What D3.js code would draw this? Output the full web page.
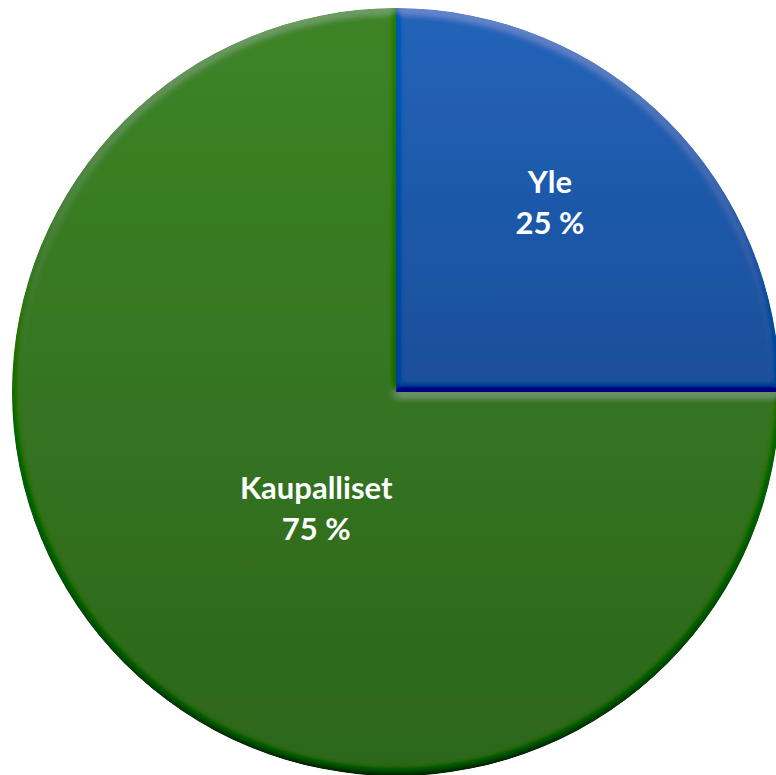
<!DOCTYPE html>
<html>
<head>
<meta charset="utf-8">
<script src="https://cdn.jsdelivr.net/npm/d3@7"></script>
<style>
  body { margin: 0; background: #fff; overflow: hidden; }
  text { font-family: Lato, "Open Sans", sans-serif; font-weight: bold; fill: #fff; }
</style>
</head>
<body>
<script>
document.addEventListener('DOMContentLoaded', function () {
    // data
    let categories = ['Yle', 'Kaupalliset']
    let shares = [25, 75]
    let shareLabels = ['25 %', '75 %']

    var width = 776, height = 775
    var cx = 396, cy = 392, radius = 384

    var colTop = ['#2264b9', '#3e8426']
    var colBottom = ['#1b4e9a', '#2c661c']

    var svg = d3.select('body')
                .append('svg')
                .attr('width', width)
                .attr('height', height)

    var defs = svg.append('defs')

    categories.forEach((c, i) => {
        var g = defs.append('linearGradient')
                    .attr('id', 'grad' + i)
                    .attr('x1', 0).attr('y1', 0)
                    .attr('x2', 0).attr('y2', 1)
        g.append('stop').attr('offset', '0%').attr('stop-color', colTop[i])
        g.append('stop').attr('offset', '100%').attr('stop-color', colBottom[i])
    })

    // bevel: diffuse light from above on a blurred alpha edge,
    // highlights and shadows added separately so the shadow stays soft
    var elev = 50
    var flat = Math.sin(elev * Math.PI / 180)
    var f = defs.append('filter').attr('id', 'bevel')
                .attr('x', '-5%').attr('y', '-5%').attr('width', '110%').attr('height', '110%')
    f.append('feGaussianBlur').attr('in', 'SourceAlpha').attr('stdDeviation', 4).attr('result', 'blur')
    f.append('feDiffuseLighting').attr('in', 'blur').attr('surfaceScale', 4)
     .attr('diffuseConstant', 1).attr('lighting-color', '#ffffff').attr('result', 'light')
     .append('feDistantLight').attr('azimuth', 270).attr('elevation', elev)
    f.append('feComposite').attr('in', 'SourceGraphic').attr('in2', 'light')
     .attr('operator', 'arithmetic')
     .attr('k1', 0).attr('k2', 1).attr('k3', 0.45).attr('k4', -0.45 * flat)
     .attr('result', 'lit')
    f.append('feComposite').attr('in', 'SourceGraphic').attr('in2', 'light')
     .attr('operator', 'arithmetic')
     .attr('k1', 0).attr('k2', 1).attr('k3', 0.22).attr('k4', -0.22 * flat)
     .attr('result', 'soft')
    // take the brighter of the strong-light and soft-light versions
    f.append('feBlend').attr('in', 'lit').attr('in2', 'soft').attr('mode', 'lighten').attr('result', 'mix')
    f.append('feComposite').attr('in', 'mix').attr('in2', 'SourceAlpha').attr('operator', 'in')

    var pie = d3.pie().sort(null).value(d => d)
    var arc = d3.arc().innerRadius(0).outerRadius(radius)

    var arcs = pie(shares)

    var g = svg.append('g').attr('transform', 'translate(' + cx + ',' + cy + ')')

    g.selectAll('path')
     .data(arcs)
     .enter()
     .append('path')
     .attr('d', arc)
     .attr('fill', (d, i) => 'url(#grad' + i + ')')
     .attr('filter', 'url(#bevel)')

    // label spots: fraction of radius and a small turn off the mid angle
    var labelR = [0.643, 0.36]
    var labelTurn = [-0.112, -0.17]

    var labels = g.selectAll('g.lbl')
                  .data(arcs)
                  .enter()
                  .append('g')
                  .attr('class', 'lbl')
                  .attr('transform', (d, i) => {
                      var a = (d.startAngle + d.endAngle) / 2 + labelTurn[i]
                      var r = radius * labelR[i]
                      return 'translate(' + (r * Math.sin(a)) + ',' + (-r * Math.cos(a)) + ')'
                  })

    labels.append('text')
          .attr('text-anchor', 'middle')
          .attr('font-size', 31)
          .attr('y', -6)
          .text((d, i) => categories[i])

    labels.append('text')
          .attr('text-anchor', 'middle')
          .attr('font-size', 31)
          .attr('y', 35)
          .text((d, i) => shareLabels[i])
})
</script>
</body>
</html>
